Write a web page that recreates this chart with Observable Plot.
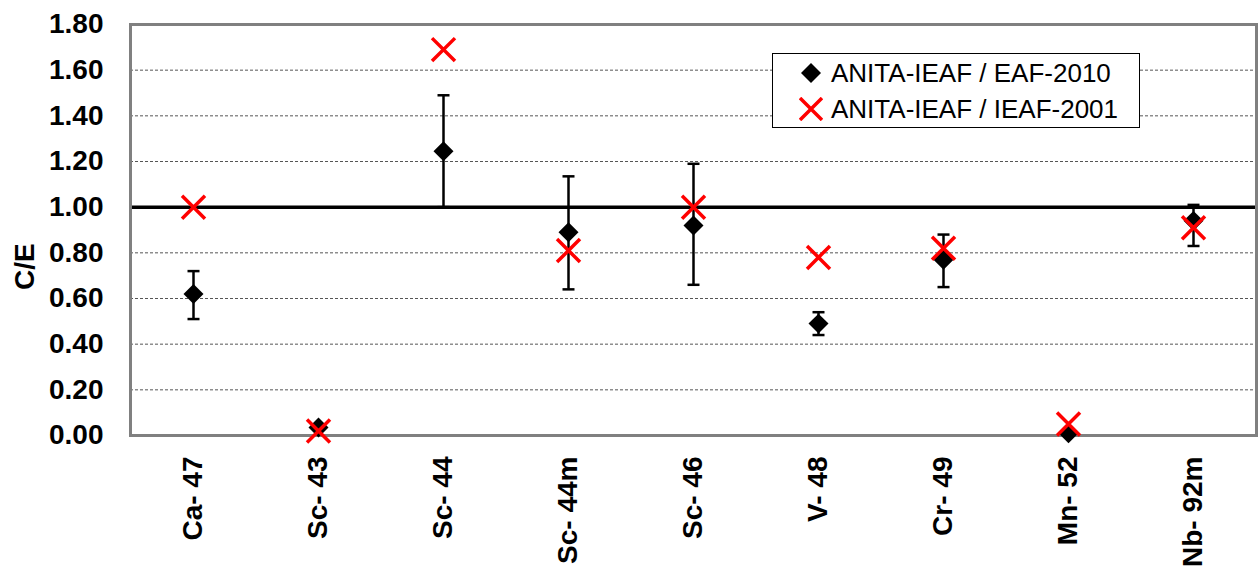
<!DOCTYPE html>
<html>
<head>
<meta charset="utf-8">
<script src="https://cdn.jsdelivr.net/npm/d3@7"></script>
<script src="https://cdn.jsdelivr.net/npm/@observablehq/plot@0.6"></script>
<style>
  html, body { margin: 0; padding: 0; background: #fff; }
  #wrap { position: relative; width: 1259px; height: 569px; font-family: "Liberation Sans", Arial, sans-serif; }
  #legend { position: absolute; left: 772px; top: 53px; width: 368px; height: 75px; border: 1.5px solid #000; background: #fff; box-sizing: border-box; }
  .row { position: absolute; left: 0; height: 36px; display: flex; align-items: center; font-size: 26px; color: #000; white-space: nowrap; }
  .row svg { margin-left: 26px; margin-right: 8px; }
</style>
</head>
<body>
<div id="wrap">
  <div id="chart"></div>
  <div id="legend">
    <div class="row" style="top:1px"><svg width="24" height="24" viewBox="-12 -12 24 24"><path d="M0,-10L10,0L0,10L-10,0Z" fill="#000"/></svg><span>ANITA-IEAF / EAF-2010</span></div>
    <div class="row" style="top:37px"><svg width="24" height="24" viewBox="-12 -12 24 24"><path d="M-11,-11L11,11M11,-11L-11,11" stroke="#ff0000" stroke-width="3.5"/></svg><span>ANITA-IEAF / IEAF-2001</span></div>
  </div>
</div>
<script>
const categories = ["Ca- 47", "Sc- 43", "Sc- 44", "Sc- 44m", "Sc- 46", "V- 48", "Cr- 49", "Mn- 52", "Nb- 92m"];
const eaf2010 = [0.62, 0.035, 1.245, 0.89, 0.92, 0.49, 0.77, 0.01, 0.94];
const errLow = [0.51, null, 1.00, 0.64, 0.66, 0.44, 0.65, null, 0.83];
const errHigh = [0.72, null, 1.49, 1.135, 1.19, 0.54, 0.88, null, 1.01];
const ieaf2001 = [1.00, 0.02, 1.69, 0.81, 1.00, 0.78, 0.82, 0.05, 0.91];
const yTicks = [0, 0.2, 0.4, 0.6, 0.8, 1.0, 1.2, 1.4, 1.6, 1.8];
const gridTicks = [0.2, 0.4, 0.6, 0.8, 1.2, 1.4, 1.6];

const rows = categories.map((c, i) => ({cat: c, a: eaf2010[i], b: ieaf2001[i], lo: errLow[i], hi: errHigh[i]}));
const errRows = rows.filter(d => d.lo != null);

const capSymbol = {
  draw(context, size) {
    context.moveTo(-6, 0);
    context.lineTo(6, 0);
  }
};

const font = "Liberation Sans, Arial, sans-serif";

const chart = Plot.plot({
  width: 1259,
  height: 569,
  marginLeft: 130,
  marginRight: 3,
  marginTop: 24,
  marginBottom: 134,
  style: {fontFamily: font, background: "#fff", overflow: "visible"},
  x: {type: "point", domain: categories, padding: 0.5, label: null},
  y: {domain: [0, 1.8], label: null},
  marks: [
    Plot.ruleY(gridTicks, {stroke: "#555", strokeWidth: 1, strokeDasharray: "3,2"}),
    Plot.ruleY([1.0], {stroke: "#000", strokeWidth: 3.5}),
    Plot.frame({stroke: "#808080", strokeWidth: 3}),
    Plot.axisY(yTicks, {tickSize: 0, tickPadding: 27, tickFormat: d => d.toFixed(2), fontSize: 28, fontWeight: "bold", fill: "#000", label: null}),
    Plot.axisX(categories, {tickSize: 0, tickPadding: 21, tickRotate: -90, fontSize: 28, fontWeight: "bold", fill: "#000", label: null}),
    Plot.text(["C/E"], {frameAnchor: "left", dx: -105, dy: 60, rotate: -90, fontSize: 28, fontWeight: "bold", fill: "#000"}),
    Plot.ruleX(errRows, {x: "cat", y1: "lo", y2: "hi", stroke: "#000", strokeWidth: 2.5}),
    Plot.dot(errRows, {x: "cat", y: "lo", symbol: capSymbol, stroke: "#000", strokeWidth: 2.5, fill: "none", r: 6}),
    Plot.dot(errRows, {x: "cat", y: "hi", symbol: capSymbol, stroke: "#000", strokeWidth: 2.5, fill: "none", r: 6}),
    Plot.dot(rows, {x: "cat", y: "a", symbol: "diamond2", fill: "#000", stroke: "none", r: 9}),
    Plot.dot(rows, {x: "cat", y: "b", symbol: "times", stroke: "#ff0000", strokeWidth: 3.5, r: 10.5})
  ]
});
document.getElementById("chart").appendChild(chart);
</script>
</body>
</html>
